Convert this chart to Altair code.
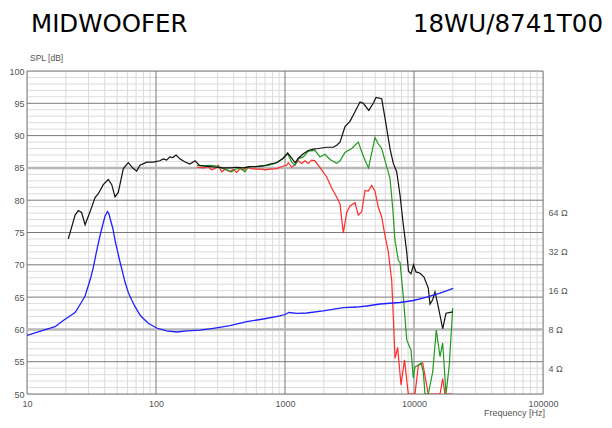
import altair as alt
import pandas as pd

# ---------------- data ----------------
black_freq = [20.9, 23.6, 25.0, 26.5, 28.2, 30.8, 33.7, 35.7, 39.0, 42.7, 45.4, 48.1, 51.0, 55.8, 61.0,
              66.7, 70.8, 75.2, 84.7, 95.3, 107, 114, 121, 128, 135, 143, 153, 168, 183, 201, 217, 233,
              262, 295, 332, 375, 422, 475, 535, 603, 679, 765, 862, 970, 1049, 1127, 1196, 1268, 1387,
              1516, 1658, 1812, 2106, 2368, 2516, 2670, 2918, 3190, 3488, 3814, 4046, 4463, 4836, 5075,
              5618, 5960, 6516, 6911, 7341, 7789, 8262, 8778, 9066, 9478, 9911, 10362, 11130, 11955,
              12907, 13305, 13960, 14550, 15430, 16690, 17710, 18775, 19950]
black_db = [74.0, 77.7, 78.4, 78.1, 76.2, 78.2, 80.4, 81.0, 82.4, 83.2, 82.4, 80.5, 81.2, 84.9, 85.8,
            84.9, 84.5, 85.4, 85.9, 85.9, 86.1, 86.4, 86.2, 86.7, 86.6, 87.0, 86.4, 85.9, 85.6, 86.1,
            85.4, 85.3, 85.2, 85.1, 85.0, 85.0, 85.1, 85.0, 85.2, 85.2, 85.3, 85.6, 85.8, 86.5, 87.3,
            86.5, 85.8, 86.5, 87.2, 87.7, 87.9, 88.0, 88.2, 88.2, 88.5, 89.0, 91.4, 92.2, 93.7, 95.2,
            95.0, 93.9, 95.0, 95.9, 95.7, 92.7, 88.0, 85.7, 84.4, 80.8, 76.2, 72.0, 69.0, 68.6, 70.0,
            68.9, 68.7, 68.1, 66.4, 63.9, 64.6, 65.8, 63.5, 60.1, 62.5, 62.6, 62.7]

green_freq = [207, 233, 262, 287, 304, 323, 353, 386, 410, 448, 490, 519, 585, 660, 742, 837, 943, 1049,
              1127, 1196, 1268, 1387, 1516, 1708, 1867, 2042, 2233, 2516, 2670, 2918, 3289, 3701, 3932,
              4171, 4440, 4986, 5288, 5618, 6143, 6516, 6838, 7123, 7554, 7789, 8262, 8778, 9195, 9478,
              9876, 10180, 10798, 11330, 11810, 12170, 12907, 13960, 14890, 15910, 16690, 17710, 18775,
              19950]
green_db = [85.4, 85.3, 85.4, 85.3, 85.2, 85.0, 84.7, 84.4, 84.8, 85.0, 84.4, 85.2, 85.2, 85.3, 85.4,
            85.7, 86.3, 87.2, 85.9, 85.4, 86.4, 86.7, 87.6, 87.7, 86.7, 87.1, 86.3, 85.7, 86.1, 87.4,
            88.0, 89.0, 87.5, 86.2, 85.0, 89.7, 88.7, 88.0, 85.2, 83.4, 78.8, 73.8, 70.7, 70.4, 65.1,
            58.4, 57.4, 56.8, 52.5, 54.2, 54.5, 54.8, 53.4, 50, 50, 53.4, 59.9, 55.8, 57.9, 50, 54.5, 63.3]

red_freq = [207, 233, 254, 270, 287, 304, 323, 343, 375, 397, 422, 448, 475, 505, 552, 603, 660, 700,
            765, 862, 970, 1031, 1061, 1127, 1196, 1268, 1348, 1429, 1516, 1611, 1708, 1812, 1925, 2106,
            2301, 2516, 2670, 2831, 3008, 3190, 3488, 3701, 3932, 4171, 4423, 4700, 4986, 5288, 5618,
            5960, 6321, 6716, 6911, 7123, 7473, 7929, 8440, 9034, 10180, 10798, 11680, 12390, 12907,
            15910, 16690, 17390, 19950]
red_db = [85.1, 85.0, 85.2, 84.7, 84.9, 85.4, 84.4, 84.8, 84.4, 84.8, 84.3, 84.9, 84.6, 85.1, 84.9,
          84.8, 84.8, 84.7, 84.8, 84.9, 85.3, 85.4, 85.8, 85.1, 85.5, 86.1, 85.7, 86.1, 85.7, 86.2,
          86.1, 85.4, 84.7, 83.6, 81.9, 80.5, 79.4, 74.9, 78.1, 79.1, 79.6, 77.7, 78.2, 81.5, 81.4,
          82.3, 81.4, 78.9, 77.4, 74.5, 72.0, 67.6, 62.0, 55.5, 57.2, 51.4, 55.3, 50, 50, 54.4, 54.8,
          51.9, 50, 50, 52.4, 50, 50]

imp_freq = [10, 13.3, 16.5, 19.1, 21.5, 23.6, 26.5, 28.2, 29.9, 31.3, 32.7, 34.3, 35.7, 37.1, 38.6,
            40.3, 42.1, 43.2, 44.4, 46.4, 48.1, 50.3, 52.6, 55.0, 57.5, 61.2, 64.8, 68.8, 75.2, 79.7,
            87.2, 101, 121, 145, 173, 219, 278, 375, 505, 679, 914, 1000, 1074, 1232, 1473, 1982,
            2831, 3596, 4298, 5450, 7789, 9876, 12540, 15910, 20170]
imp_ohm = [7.20, 7.85, 8.40, 9.38, 10.16, 10.81, 13.04, 14.51, 17.49, 20.35, 24.3, 30.7, 37.1, 43.8,
           51.4, 60.3, 65.4, 62.5, 56.2, 47.9, 39.3, 32.3, 26.6, 22.3, 18.6, 15.3, 13.5, 11.99, 10.34,
           9.71, 8.92, 8.20, 7.78, 7.64, 7.80, 7.89, 8.16, 8.54, 9.18, 9.63, 10.16, 10.43, 10.81, 10.66,
           10.72, 11.11, 11.78, 11.92, 12.14, 12.58, 12.92, 13.39, 14.25, 15.30, 16.64]

major_freq = [10, 100, 1000, 10000, 100000]
minor_freq = [m * d for d in [10, 100, 1000, 10000] for m in range(2, 10)]
major_db = list(range(50, 101, 5))
minor_db = [v for v in range(50, 101) if v % 5 != 0]
ref_db = [60, 85]
imp_ticks = [4, 8, 16, 32, 64]

title_left = "MIDWOOFER"
title_right = "18WU/8741T00"
y_title = "SPL [dB]"
x_title = "Frequency [Hz]"

# ---------------- chart ----------------
W, H = 516, 323
FONT = "Liberation Sans"
xscale = alt.Scale(type="log", domain=[10, 100000], nice=False)
yscale = alt.Scale(domain=[50, 100], nice=False, zero=False)

xaxis = alt.Axis(values=major_freq, format="d", title=None, ticks=False, domain=False,
                 grid=False, labelFontSize=9, labelFont=FONT, labelColor="#555",
                 labelPadding=5, labelFlush=False, orient="bottom")
yaxis = alt.Axis(values=major_db, title=None, ticks=False, domain=False, grid=False,
                 labelFontSize=9, labelFont=FONT, labelColor="#555", labelPadding=3,
                 orient="left")

X = alt.X("freq:Q", scale=xscale, axis=xaxis)
Y = alt.Y("db:Q", scale=yscale, axis=yaxis)


def vrules(vals, color, width):
    return alt.Chart(pd.DataFrame({"freq": vals})).mark_rule(color=color, strokeWidth=width).encode(x=X)


def hrules(vals, color, width):
    return alt.Chart(pd.DataFrame({"db": vals})).mark_rule(color=color, strokeWidth=width).encode(y=Y)


minor_v = vrules(minor_freq, "#dcdcdc", 1)
minor_h = hrules(minor_db, "#dcdcdc", 1)
major_v = vrules(major_freq, "#7a7a7a", 1)
major_h = hrules(major_db, "#7a7a7a", 1)
ref_h = hrules(ref_db, "#b8b8b8", 2.5)


def curve(freqs, dbs, color):
    return alt.Chart(pd.DataFrame({"freq": freqs, "db": dbs})).mark_line(
        color=color, strokeWidth=1.2, clip=True).encode(x=X, y=Y)


red = curve(red_freq, red_db, "#ff2a2a")
green = curve(green_freq, green_db, "#1f9a1f")
black = curve(black_freq, black_db, "#111111")

spl = alt.layer(minor_v, minor_h, major_v, major_h, ref_h, red, green, black)

imp = alt.Chart(pd.DataFrame({"freq": imp_freq, "ohm": imp_ohm})).mark_line(
    color="#1f1fff", strokeWidth=1.3, clip=True).encode(
    x=X,
    y=alt.Y("ohm:Q", scale=alt.Scale(type="log", domain=[2.5298, 800], nice=False),
            axis=alt.Axis(orient="right", values=imp_ticks, labelExpr="datum.value + ' Ω'",
                          title=None, ticks=False, domain=False, grid=False, labelFontSize=9,
                          labelFont=FONT, labelColor="#555", labelPadding=5)))


def label(txt, x, y, size, align, color, font=FONT):
    return alt.Chart(pd.DataFrame({"t": [txt]})).mark_text(
        align=align, baseline="alphabetic", fontSize=size, font=font, color=color).encode(
        text="t:N", x=alt.value(x), y=alt.value(y))


t1 = label(title_left, 4, -39.5, 24.5, "left", "#000000", "DejaVu Sans")
t2 = label(title_right, 576, -39.5, 24.5, "right", "#000000", "DejaVu Sans")
t3 = label(y_title, 3, -10, 8.5, "left", "#555555")
t4 = label(x_title, 518, 345, 9, "right", "#555555")

chart = alt.layer(spl, imp, t1, t2, t3, t4).resolve_scale(y="independent").properties(
    width=W, height=H,
    autosize=alt.AutoSizeParams(type="none"),
    padding={"left": 19, "top": 63, "right": 61, "bottom": 27},
).configure_view(stroke="#6a6a6a", strokeWidth=1).configure(background="white")

chart.save("out.html", embed_options={"renderer": "svg", "actions": False})
